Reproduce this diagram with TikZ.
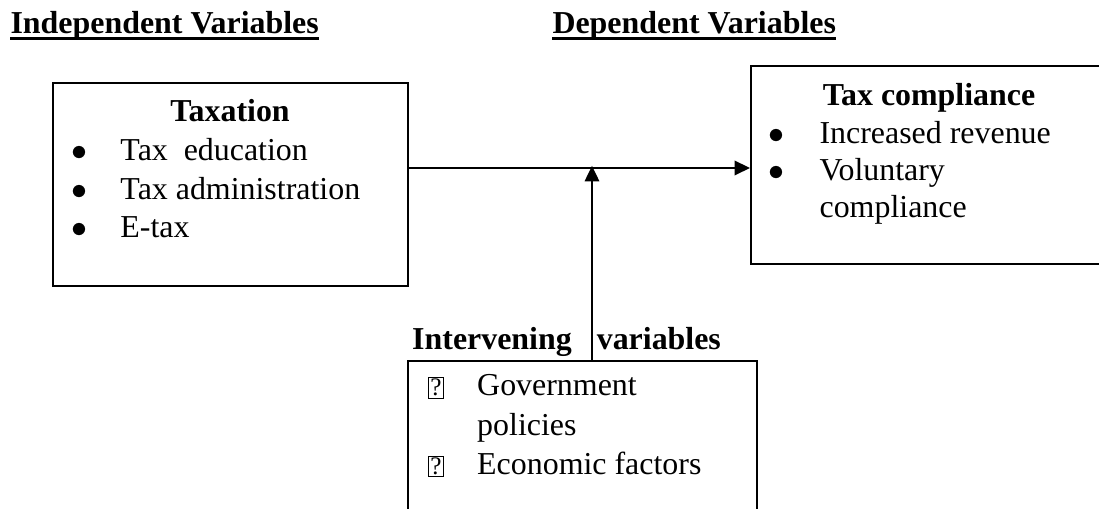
\documentclass[tikz,border=0pt]{standalone}
\usepackage{fontspec}
\setmainfont{Liberation Serif}
\usepackage{xcolor}
\usetikzlibrary{arrows.meta,positioning,calc}

% list markers: a round bullet, and the framed question mark of the lower box
\newcommand{\dotmarker}{$\bullet$}
\newcommand{\qmarker}{{\setlength{\fboxsep}{0.5pt}\setlength{\fboxrule}{0.4pt}\fbox{\fontsize{9.5}{10}\selectfont ?}}}

\begin{document}
\begin{tikzpicture}[
        x=0.376pt, y=-0.376pt,
        font=\fontsize{12}{14.5}\selectfont,
        >={Triangle[length=5.8pt,width=5.4pt]},
        % --- node styles ---
        block/.style={
            draw, line width=0.75pt, inner sep=0pt,
            anchor=north west
        },
        heading/.style={
            font=\fontsize{12}{14.5}\selectfont\bfseries,
            inner sep=0pt, anchor=base west
        },
        boxtitle/.style={
            font=\fontsize{12}{14.5}\selectfont\bfseries,
            inner sep=0pt, anchor=base
        },
        itemlist/.style={inner sep=0pt, anchor=base west},
        % --- edge styles ---
        arr/.style={->, line width=0.9pt},
        underl/.style={line width=1.2pt}
    ]

    \useasboundingbox (0,0) rectangle (1099,509);

    % --- Headings ---
    \node[heading] (indep) at (10,33.3) {Independent Variables};
    \node[heading] (dep) at (552,33.3) {Dependent Variables};
    \draw[underl] ([yshift=-2pt]indep.base west) -- ([yshift=-2pt]indep.base east);
    \draw[underl] ([yshift=-2pt]dep.base west) -- ([yshift=-2pt]dep.base east);

    % --- Independent variables box ---
    \node[block, minimum width=133.5pt, minimum height=76.4pt] (taxbox) at (52,81.7) {};
    \node[boxtitle] (taxtitle) at (230,121.7) {Taxation};
    \node[itemlist] (taxitems) at (71,160.5)
        {\begin{tabular}[t]{@{}p{18.4pt}@{}l@{}}
         \dotmarker & Tax\ \ education\\
         \dotmarker & Tax administration\\
         \dotmarker & E-tax
         \end{tabular}};

    % --- Dependent variables box (runs past the right edge) ---
    \node[block, minimum width=134.6pt, minimum height=74.3pt] (compbox) at (750,65.5) {};
    \node[boxtitle] (comptitle) at (929,105.5) {Tax compliance};
    \node[itemlist, font=\fontsize{12}{13.8}\selectfont] (compitems) at (768,144)
        {\begin{tabular}[t]{@{}p{19.2pt}@{}l@{}}
         \dotmarker & Increased revenue\\
         \dotmarker & Voluntary\\
                    & compliance
         \end{tabular}};

    % --- Intervening variables box (runs past the bottom edge) ---
    \node[heading] (intlabel) at (411.7,350) {Intervening\hspace{9.4pt}variables};
    \node[block, minimum width=131.3pt, minimum height=60.2pt] (intbox) at (406.7,360) {};
    \node[itemlist, font=\fontsize{12}{14.8}\selectfont] (intitems) at (427.5,396)
        {\begin{tabular}[t]{@{}p{18.5pt}@{}l@{}}
         \qmarker & Government\\
                  & policies\\
         \qmarker & Economic factors
         \end{tabular}};

    % ===== Arrows =====
    \coordinate (meet) at (592,168);
    \draw[arr] (taxbox.east |- meet) -- (compbox.west |- meet);
    \draw[arr, line width=0.8pt] (intbox.north -| meet) -- ([yshift=0.8pt]meet);

\end{tikzpicture}
\end{document}
